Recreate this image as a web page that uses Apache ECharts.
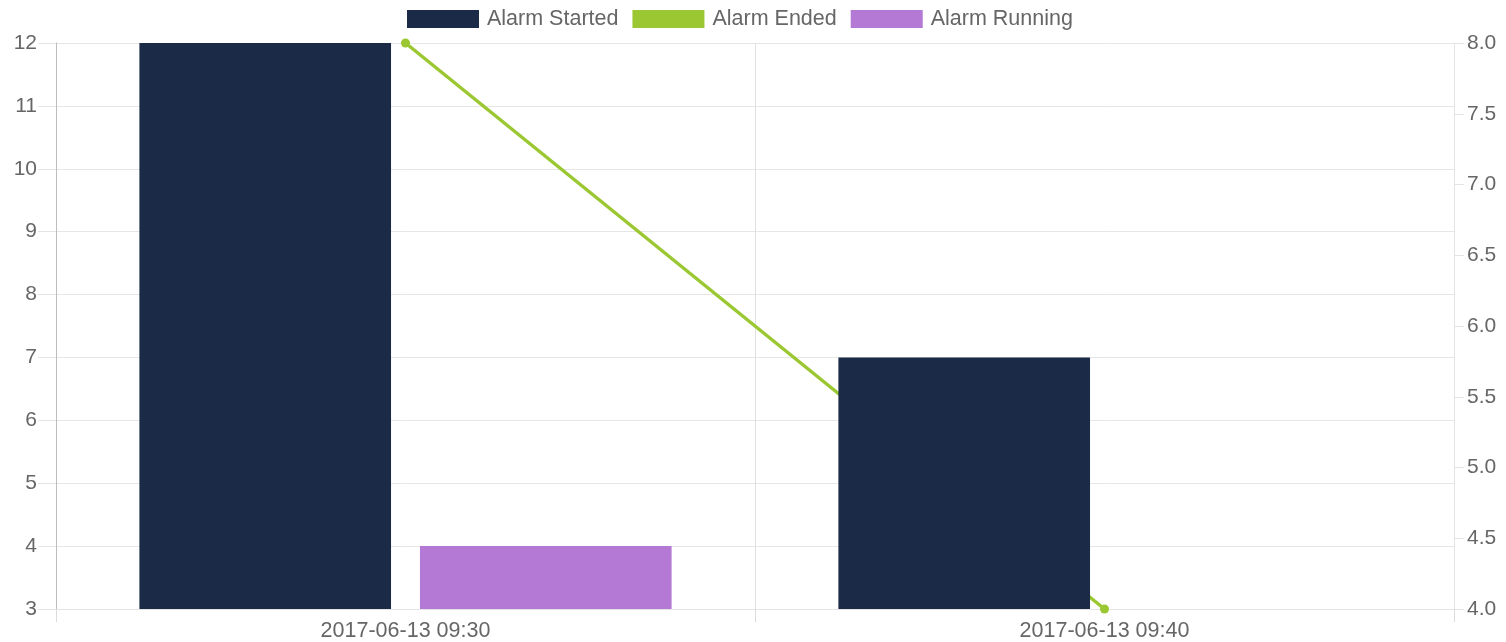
<!DOCTYPE html>
<html>
<head>
<meta charset="utf-8">
<script src="https://cdn.jsdelivr.net/npm/echarts@6/dist/echarts.min.js"></script>
<style>
html,body{margin:0;padding:0;background:#fff;}
#chart{width:1506px;height:642px;}
</style>
</head>
<body>
<div id="chart"></div>
<script>
const categories = ['2017-06-13 09:30', '2017-06-13 09:40'];
const alarmStarted = [12, 7];
const alarmEnded = [8, 4];
const alarmRunning = [4, 3];
const seriesNames = ['Alarm Started', 'Alarm Ended', 'Alarm Running'];

const FONT = "'Liberation Sans', Arial, sans-serif";
const chart = echarts.init(document.getElementById('chart'), null, {renderer: 'canvas'});
chart.setOption({
  animation: false,
  textStyle: {fontFamily: FONT},
  legend: {
    top: 3,
    left: 402,
    icon: 'rect',
    itemWidth: 72,
    itemHeight: 18,
    itemGap: 14,
    textStyle: {fontSize: 21.5, color: '#666', fontFamily: FONT, padding: [0, 0, 0, 3]},
    data: seriesNames
  },
  grid: {left: 56, right: 52, top: 43, bottom: 32, containLabel: false},
  xAxis: {
    type: 'category',
    data: categories,
    boundaryGap: true,
    axisLine: {show: true, lineStyle: {color: '#e4e4e4', width: 1}},
    axisTick: {show: true, length: 13, alignWithLabel: false, lineStyle: {color: '#dcdcdc'}},
    splitLine: {show: true, lineStyle: {color: '#e0e0e0', width: 1}},
    axisLabel: {fontSize: 21.5, color: '#666', margin: 11, fontFamily: FONT}
  },
  yAxis: [
    {
      type: 'value',
      min: 3, max: 12, interval: 1,
      position: 'left',
      axisLine: {show: true, lineStyle: {color: '#bdbdbd', width: 1}},
      axisTick: {show: true, length: 18, lineStyle: {color: '#e4e4e4'}},
      splitLine: {show: true, lineStyle: {color: '#e6e6e6', width: 1}},
      axisLabel: {fontSize: 21, color: '#666', margin: 19, fontFamily: FONT}
    },
    {
      type: 'value',
      min: 4, max: 8, interval: 0.5,
      position: 'right',
      axisLine: {show: true, lineStyle: {color: '#e4e4e4', width: 1}},
      axisTick: {show: true, length: 10, lineStyle: {color: '#e4e4e4'}},
      splitLine: {show: false},
      axisLabel: {fontSize: 21, color: '#666', margin: 13, fontFamily: FONT,
        formatter: v => v.toFixed(1)}
    }
  ],
  series: [
    {
      name: seriesNames[0],
      type: 'bar',
      yAxisIndex: 0,
      data: alarmStarted,
      barWidth: '36%',
      barGap: '11.5%',
      itemStyle: {color: '#1b2a47'},
      z: 3
    },
    {
      name: seriesNames[1],
      type: 'line',
      yAxisIndex: 1,
      data: alarmEnded,
      symbol: 'circle',
      symbolSize: 9,
      showAllSymbol: true,
      clip: false,
      lineStyle: {color: '#9bc832', width: 3.5},
      itemStyle: {color: '#9bc832'},
      z: 1
    },
    {
      name: seriesNames[2],
      type: 'bar',
      yAxisIndex: 0,
      data: alarmRunning,
      barWidth: '36%',
      barGap: '11.5%',
      itemStyle: {color: '#b479d4'},
      z: 3
    }
  ]
});
</script>
</body>
</html>
